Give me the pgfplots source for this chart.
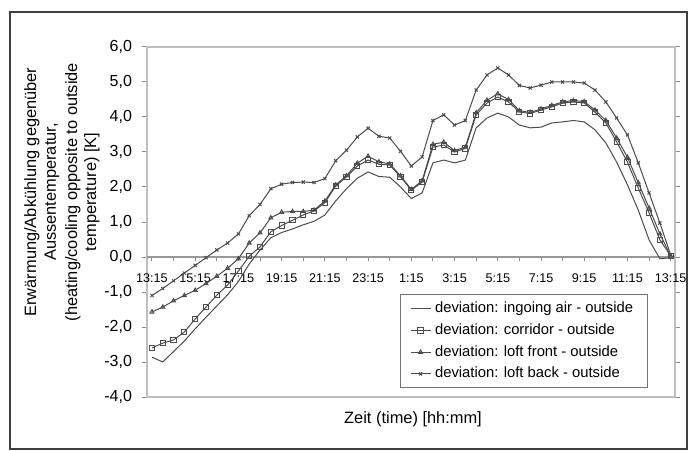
\documentclass[border=0pt]{standalone}
\usepackage{fontspec}
\setmainfont{Liberation Sans}
\usepackage{pgfplots}
\usepackage{pgfplotstable}
\pgfplotsset{compat=1.18}

% hours after 13:15, one reading every 30 min
\pgfplotstableread{
h    ingoing corridor front back
0.0  -2.86  -2.60  -1.57  -1.10
0.5  -3.00  -2.46  -1.43  -0.90
1.0  -2.70  -2.37  -1.25  -0.68
1.5  -2.40  -2.14  -1.10  -0.46
2.0  -2.05  -1.77  -0.95  -0.24
2.5  -1.72  -1.43  -0.76  -0.02
3.0  -1.40  -1.09  -0.55   0.20
3.5  -1.08  -0.80  -0.32   0.40
4.0  -0.70  -0.40  -0.05   0.66
4.5  -0.20   0.02   0.40   1.18
5.0   0.20   0.29   0.69   1.50
5.5   0.55   0.72   1.12   1.95
6.0   0.70   0.90   1.28   2.08
6.5   0.80   1.05   1.30   2.13
7.0   0.92   1.20   1.30   2.14
7.5   1.02   1.32   1.34   2.13
8.0   1.20   1.55   1.60   2.24
8.5   1.60   2.03   2.06   2.75
9.0   1.95   2.29   2.32   3.05
9.5   2.25   2.60   2.68   3.43
10.0  2.43   2.77   2.88   3.68
10.5  2.30   2.65   2.72   3.45
11.0  2.28   2.63   2.66   3.40
11.5  2.00   2.29   2.32   3.02
12.0  1.67   1.91   1.93   2.60
12.5  1.83   2.14   2.18   2.86
13.0  2.69   3.14   3.22   3.90
13.5  2.77   3.20   3.28   4.06
14.0  2.69   3.00   3.04   3.77
14.5  2.77   3.10   3.14   3.90
15.0  3.69   4.06   4.12   4.77
15.5  3.97   4.40   4.48   5.20
16.0  4.11   4.57   4.66   5.40
16.5  4.00   4.43   4.50   5.20
17.0  3.77   4.14   4.18   4.90
17.5  3.69   4.10   4.13   4.83
18.0  3.71   4.20   4.23   4.91
18.5  3.83   4.29   4.33   5.00
19.0  3.86   4.40   4.43   5.00
19.5  3.90   4.43   4.47   5.00
20.0  3.86   4.40   4.44   4.97
20.5  3.63   4.14   4.20   4.77
21.0  3.26   3.83   3.90   4.43
21.5  2.71   3.29   3.40   3.97
22.0  2.06   2.71   2.85   3.49
22.5  1.34   1.97   2.12   2.69
23.0  0.49   1.26   1.40   1.83
23.5 -0.05   0.49   0.66   0.97
24.0 -0.02   0.03   0.03   0.06
}\devdata

\pgfplotsset{
  base/.style={
    scale only axis, width=264pt, height=175pt,
    xmin=-0.23, xmax=24.2, ymin=-4, ymax=6,
  },
  ser/.style={black!70, line width=0.5pt},
}

\begin{document}
\begin{tikzpicture}[font=\fontsize{7.5}{9}\selectfont]
\useasboundingbox (-73.5pt,-26.5pt) rectangle (273.5pt,198.5pt);
\draw[black!75, line width=0.75pt] (-68.5pt,-26pt) rectangle (270pt,192.5pt);

\begin{axis}[base,
  axis line style={draw=black!25, line width=1pt},
  xtick=\empty,
  ytick={-4,-3,...,6},
  yticklabels={{-4,0},{-3,0},{-2,0},{-1,0},{0,0},{1,0},{2,0},{3,0},{4,0},{5,0},{6,0}},
  yticklabel style={font=\fontsize{8}{9}\selectfont, xshift=-1.5pt},
  ytick style={black!45, line width=0.5pt},
  tick align=outside, major tick length=2.5pt,
]
\end{axis}

\begin{axis}[base,
  axis x line=middle, axis y line=none,
  axis line style={-, draw=black!40, line width=0.8pt},
  hide obscured x ticks=false,
  xtick={0,1,...,24},
  xticklabels={13:15,,15:15,,17:15,,19:15,,21:15,,23:15,,1:15,,3:15,,5:15,,7:15,,9:15,,11:15,,13:15},
  xticklabel style={font=\fontsize{6.3}{8}\selectfont, yshift=-3pt},
  xtick style={black!45, line width=0.5pt},
  tick align=outside, major tick length=2pt,
  ytick=\empty,
  legend cell align=left,
  legend image code/.code={\draw[mark repeat=2,mark phase=2,#1] plot coordinates {(0pt,0pt) (5pt,0pt) (10pt,0pt)};},
  legend style={at={(0.948,0.025)}, anchor=south east, draw=black!55, line width=0.5pt,
    font=\fontsize{7.4}{9}\selectfont, inner xsep=5pt, inner ysep=1.5pt},
]
\addplot[ser, no markers] table[x=h, y=ingoing] {\devdata};
\addlegendentry{deviation: ingoing air - outside}
\addplot[ser, mark=square, mark size=1.3pt, mark options={solid, fill=white}] table[x=h, y=corridor] {\devdata};
\addlegendentry{deviation: corridor - outside}
\addplot[ser, mark=triangle, mark size=1.1pt, mark options={solid}] table[x=h, y=front] {\devdata};
\addlegendentry{deviation: loft front - outside}
\addplot[ser, mark=x, mark size=1.1pt, mark options={solid}] table[x=h, y=back] {\devdata};
\addlegendentry{deviation: loft back - outside}
\end{axis}

\begin{scope}[font=\fontsize{8.2}{10}\selectfont]
\node[rotate=90] at (-57.5pt,102.5pt) {Erwärmung/Abkühlung gegenüber};
\node[rotate=90] at (-47.5pt,102.5pt) {Aussentemperatur,};
\node[rotate=90] at (-37pt,102.5pt) {(heating/cooling opposite to outside};
\node[rotate=90] at (-27.5pt,102.5pt) {temperature) [K]};
\node at (133pt,-11pt) {Zeit (time) [hh:mm]};
\end{scope}
\end{tikzpicture}
\end{document}
